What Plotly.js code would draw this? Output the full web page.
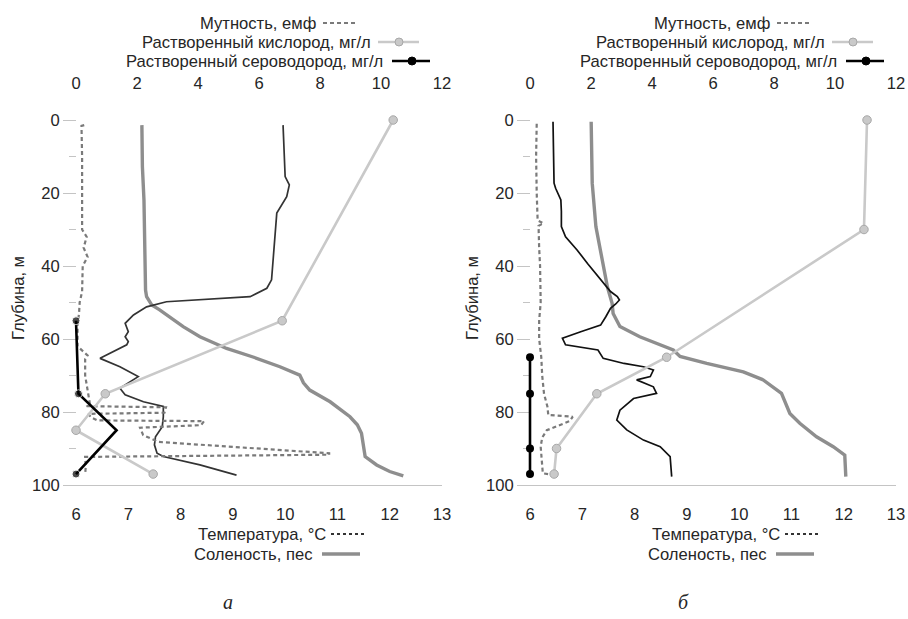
<!DOCTYPE html>
<html>
<head>
<meta charset="utf-8">
<script src="https://cdn.plot.ly/plotly-3.0.1.min.js"></script>
<style>html,body{margin:0;padding:0;background:#fff;}#chart{width:908px;height:619px;}</style>
</head>
<body>
<div id="chart"></div>
<script>
// ---------- Panel а ----------
const tempDepthA = [1.4, 8, 15.5, 17.8, 21, 25.5, 33, 40.2, 43.8, 46.1, 48.4, 49.8, 51.2, 53.4, 55.7, 58, 59.4, 60.7, 61.6, 65.3, 67.6, 70.3, 73.5, 75.3, 77.2, 78.5, 81.3, 84, 86.8, 89, 91.3, 92.2, 94.5, 97.3];
const tempA = [9.96, 9.98, 10.0, 10.08, 10.03, 9.84, 9.8, 9.77, 9.74, 9.65, 9.33, 7.73, 7.35, 7.1, 6.94, 7.0, 6.94, 7.0, 6.97, 6.46, 6.84, 7.19, 6.84, 6.94, 7.29, 7.67, 7.67, 7.65, 7.52, 7.5, 7.55, 7.67, 8.37, 9.07];
const salDepthA = [1.4, 12.8, 21.9, 40.2, 46.6, 48.4, 50.7, 52, 56.6, 59.4, 62.6, 65, 67.6, 69.9, 72, 74, 77.2, 81.3, 83.5, 85.8, 92.2, 94.5, 96.3, 97.5];
const salA = [7.26, 7.27, 7.3, 7.32, 7.33, 7.35, 7.45, 7.6, 8.05, 8.37, 8.88, 9.4, 9.9, 10.28, 10.35, 10.47, 10.86, 11.24, 11.38, 11.46, 11.53, 11.75, 12.0, 12.26];
const turbDepthA = [1.4, 1.6, 10, 20, 30, 32, 35, 37.5, 40, 47, 50, 53, 56, 62, 64.5, 65.5, 70, 75, 77.5, 78.4, 78.7, 80.2, 80.5, 81.5, 82.3, 82.5, 83.6, 84.3, 86.3, 88.2, 91.3, 91.7, 92.3, 95, 97];
const turbA = [0.27, 0.18, 0.2, 0.2, 0.2, 0.35, 0.25, 0.38, 0.22, 0.2, 0.12, 0.1, 0.05, 0.05, 0.38, 0.3, 0.3, 0.4, 0.45, 0.35, 2.95, 2.9, 0.4, 0.5, 0.7, 4.2, 4.1, 2.1, 2.2, 2.7, 8.3, 8.3, 0.3, 0.32, 0.3];
const oxyDepthA = [0, 55, 75, 85, 97];
const oxyA = [10.4, 6.76, 0.96, 0, 2.53];
const h2sDepthA = [55, 75, 85, 97];
const h2sA = [0, 0.08, 1.33, 0];

// ---------- Panel б ----------
const tempDepthB = [0.5, 10, 17.3, 18.7, 21.9, 25, 29.2, 32, 35.6, 39.3, 43.8, 47, 48.4, 49.3, 50.4, 51.6, 53.9, 56.2, 58, 59.8, 61.6, 63, 65.3, 66.7, 67.6, 68.5, 70.3, 71.2, 73.1, 74.9, 76.3, 79.5, 82.2, 84.9, 87.7, 89.5, 92.2, 97.7];
const tempB = [6.44, 6.45, 6.46, 6.49, 6.59, 6.6, 6.6, 6.68, 6.9, 7.1, 7.35, 7.54, 7.67, 7.71, 7.64, 7.54, 7.45, 7.35, 6.97, 6.62, 6.68, 7.3, 7.4, 7.8, 8.17, 8.36, 8.3, 8.04, 8.36, 8.42, 7.98, 7.72, 7.66, 7.85, 8.17, 8.49, 8.68, 8.71];
const salDepthB = [0.5, 17.3, 29.2, 36.5, 45.7, 50.2, 53, 56.6, 59.4, 63, 64.8, 66.7, 69, 71.2, 74.9, 80.4, 83.1, 86.8, 89.5, 91.8, 94, 97.7];
const salB = [7.17, 7.19, 7.26, 7.35, 7.48, 7.57, 7.59, 7.72, 8.1, 8.74, 8.87, 9.38, 10.08, 10.46, 10.81, 10.97, 11.16, 11.48, 11.8, 12.02, 12.03, 12.04];
const turbDepthB = [1, 10, 20, 27.5, 28.3, 29, 35, 40, 50, 55, 60, 65, 70, 75, 78.5, 80.8, 81.3, 82.5, 85, 87, 89.5, 94.5, 96.8, 97.2];
const turbB = [0.22, 0.2, 0.22, 0.25, 0.44, 0.28, 0.3, 0.33, 0.35, 0.3, 0.3, 0.37, 0.4, 0.46, 0.57, 0.6, 1.4, 1.3, 0.55, 0.4, 0.35, 0.4, 0.42, 0.75];
const oxyDepthB = [0, 30, 65, 75, 90, 97];
const oxyB = [11.05, 10.95, 4.48, 2.19, 0.87, 0.79];
const h2sDepthB = [65, 75, 90, 97];
const h2sB = [0, 0, 0, 0];

// ---------- Labels ----------
const topTicks = [0, 2, 4, 6, 8, 10, 12];
const bottomTicks = [6, 7, 8, 9, 10, 11, 12, 13];
const depthTicks = [0, 20, 40, 60, 80, 100];
const depthMinor = [10, 30, 50, 70, 90];
const topMajorMarks = [0, 4, 8, 10];
const topMinorMarks = [3, 5, 9, 11];
const botMajorMarks = [6, 7, 8, 10, 12];
const botMinorMarks = [6.5, 8.5, 10.5];
const nameTurb = 'Мутность, емф';
const nameOxy = 'Растворенный кислород, мг/л';
const nameH2S = 'Растворенный сероводород, мг/л';
const nameTemp = 'Температура, °C';
const nameSal = 'Соленость, пес';
const yTitle = 'Глубина, м';
const captions = ['а', 'б'];

const W = 908, H = 619;
const FONT = '"Liberation Sans", Arial, sans-serif';
const TXT = '#262626';
const px = x => x / W;
const py = y => 1 - y / H;

const C = {
  turb: '#7a7a7a', oxy: '#c9c9c9', oxyEdge: '#a8a8a8', h2s: '#000000',
  sal: '#8e8e8e', tempA: '#333333', tempB: '#111111'
};

function panelTraces(xb, xt, yax, d) {
  return [
    {x: d.sal, y: d.salD, xaxis: xb, yaxis: yax, mode: 'lines', name: nameSal,
     line: {color: C.sal, width: 3.4}},
    {x: d.temp, y: d.tempD, xaxis: xb, yaxis: yax, mode: 'lines', name: nameTemp,
     line: {color: d.tcol, width: 1.7}},
    {x: d.turb, y: d.turbD, xaxis: xt, yaxis: yax, mode: 'lines', name: nameTurb,
     line: {color: C.turb, width: 2.2, dash: '4px,3px'}},
    {x: d.oxy, y: d.oxyD, xaxis: xt, yaxis: yax, mode: 'lines+markers', name: nameOxy,
     line: {color: C.oxy, width: 2.6}, cliponaxis: false,
     marker: {size: 8.5, color: C.oxy, line: {color: C.oxyEdge, width: 1}}},
    {x: d.h2s, y: d.h2sD, xaxis: xt, yaxis: yax, mode: 'lines+markers', name: nameH2S,
     line: {color: C.h2s, width: 2.6}, cliponaxis: false,
     marker: {size: d.h2sSize, color: C.h2s}}
  ];
}

const data = [].concat(
  panelTraces('x', 'x2', 'y', {
    sal: salA, salD: salDepthA, temp: tempA, tempD: tempDepthA, tcol: C.tempA,
    turb: turbA, turbD: turbDepthA, oxy: oxyA, oxyD: oxyDepthA,
    h2s: h2sA, h2sD: h2sDepthA, h2sSize: [8, 8, 0, 8]
  }),
  panelTraces('x5', 'x6', 'y2', {
    sal: salB, salD: salDepthB, temp: tempB, tempD: tempDepthB, tcol: C.tempB,
    turb: turbB, turbD: turbDepthB, oxy: oxyB, oxyD: oxyDepthB,
    h2s: h2sB, h2sD: h2sDepthB, h2sSize: 8
  })
);

// geometry: axis origin at 76 px (panel a) / 530 px (panel б), right end +366 px;
// plot area extended 10 px to the left so that marks at the origin are not clipped
const PAD = 10;
const SPAN = 366;
const botPerPx = 7 / SPAN, topPerPx = 12 / SPAN;
const botRange = [6 - PAD * botPerPx, 13];
const topRange = [0 - PAD * topPerPx, 12];
const tickFont = {family: FONT, size: 16.6, color: TXT};
const yRange = [100, -2.466];
const originA = 76, originB = 530;
const domA = [(originA - PAD) / W, (originA + SPAN) / W];
const domB = [(originB - PAD) / W, (originB + SPAN) / W];
const yDom = [1 - 485 / H, 1 - 111 / H];

function bottomLabelAxis(dom, yanchor) {
  return {domain: dom, anchor: yanchor, side: 'bottom', range: botRange, tickmode: 'array',
    tickvals: bottomTicks, ticks: 'outside', ticklen: 14, tickcolor: 'rgba(0,0,0,0)',
    showline: true, linecolor: '#c4c4c4', linewidth: 1, showgrid: false, zeroline: false,
    tickfont: tickFont, fixedrange: true, layer: 'below traces'};
}
function topLabelAxis(over, yanchor) {
  return {overlaying: over, anchor: yanchor, side: 'top', range: topRange, tickmode: 'array',
    tickvals: topTicks, ticks: 'outside', ticklen: 14, tickcolor: 'rgba(0,0,0,0)',
    showline: false, showgrid: false, zeroline: false, tickfont: tickFont, fixedrange: true};
}
function bottomMarkAxis(over, yanchor) {
  return {overlaying: over, anchor: yanchor, side: 'bottom', range: botRange, tickmode: 'array',
    tickvals: botMajorMarks, ticks: 'outside', ticklen: 8, tickcolor: '#b8b8b8', tickwidth: 1,
    minor: {tickmode: 'array', tickvals: botMinorMarks, ticks: 'outside', ticklen: 5, tickcolor: '#555', tickwidth: 1},
    showticklabels: false, showline: false, showgrid: false, zeroline: false, fixedrange: true};
}
function topMarkAxis(over, yanchor) {
  return {overlaying: over, anchor: yanchor, side: 'top', range: topRange, tickmode: 'array',
    tickvals: topMajorMarks, ticks: 'outside', ticklen: 11, tickcolor: '#b0b0b0', tickwidth: 1,
    minor: {tickmode: 'array', tickvals: topMinorMarks, ticks: 'outside', ticklen: 5, tickcolor: '#c4c4c4', tickwidth: 1},
    showticklabels: false, showline: false, showgrid: false, zeroline: false, fixedrange: true};
}
function depthAxis(origin) {
  return {domain: yDom, anchor: 'free', position: origin / W, range: yRange,
    tickmode: 'array', tickvals: depthTicks,
    ticks: 'outside', ticklen: 13, tickcolor: '#c4c4c4', tickwidth: 1,
    minor: {tickmode: 'array', tickvals: depthMinor, ticks: 'outside', ticklen: 7, tickcolor: '#c4c4c4'},
    showline: false, showgrid: false, zeroline: false, tickfont: tickFont, layer: 'below traces',
    title: {text: yTitle, font: {family: FONT, size: 16.6, color: TXT}, standoff: 2},
    automargin: false, fixedrange: true};
}

// legend-like key rows (text + sample), positioned per panel
const annotations = [];
const shapes = [];
function keyRow(dx, textEnd, y, label, x0, x1, style, markerX) {
  annotations.push({xref: 'paper', yref: 'paper', x: px(dx + textEnd), y: py(y), xanchor: 'right',
    yanchor: 'middle', text: label, showarrow: false, font: {family: FONT, size: 16.6, color: TXT}});
  shapes.push({type: 'line', xref: 'paper', yref: 'paper', x0: px(dx + x0), x1: px(dx + x1),
    y0: py(y), y1: py(y), line: style.line});
  if (markerX !== undefined) {
    const r = 4;
    shapes.push({type: 'circle', xref: 'paper', yref: 'paper', x0: px(dx + markerX - r), x1: px(dx + markerX + r),
      y0: py(y + r), y1: py(y - r), fillcolor: style.fill, line: {color: style.edge, width: 1}});
  }
}
[0, 454].forEach(dx => {
  keyRow(dx, 318, 23, nameTurb, 323, 358, {line: {color: C.turb, width: 2, dash: '4px,3px'}});
  keyRow(dx, 373, 42, nameOxy, 378, 419, {line: {color: C.oxy, width: 2.6}, fill: C.oxy, edge: C.oxyEdge}, 399);
  keyRow(dx, 385, 61, nameH2S, 392, 430, {line: {color: C.h2s, width: 2.6}, fill: C.h2s, edge: C.h2s}, 412);
  keyRow(dx, 328, 534, nameTemp, 331, 367, {line: {color: '#333', width: 2.2, dash: 'dot'}});
  keyRow(dx, 314, 554, nameSal, 322, 360, {line: {color: C.sal, width: 3.4}});
});
[[228, captions[0]], [683, captions[1]]].forEach(([cx, t]) => {
  annotations.push({xref: 'paper', yref: 'paper', x: px(cx), y: py(602), xanchor: 'center', yanchor: 'middle',
    text: t, showarrow: false,
    font: {family: '"Liberation Serif", "DejaVu Serif", serif', size: 20, color: TXT, style: 'italic'}});
});

const layout = {
  width: W, height: H, autosize: false,
  margin: {l: 0, r: 0, t: 0, b: 0, pad: 0},
  paper_bgcolor: '#ffffff', plot_bgcolor: 'rgba(0,0,0,0)',
  showlegend: false,
  font: {family: FONT, color: TXT},
  xaxis: bottomLabelAxis(domA, 'y'),
  xaxis2: topLabelAxis('x', 'y'),
  xaxis3: bottomMarkAxis('x', 'y'),
  xaxis4: topMarkAxis('x', 'y'),
  xaxis5: bottomLabelAxis(domB, 'y2'),
  xaxis6: topLabelAxis('x5', 'y2'),
  xaxis7: bottomMarkAxis('x5', 'y2'),
  xaxis8: topMarkAxis('x5', 'y2'),
  yaxis: depthAxis(originA),
  yaxis2: depthAxis(originB),
  annotations: annotations,
  shapes: shapes
};

Plotly.newPlot('chart', data, layout, {displayModeBar: false, staticPlot: true});
</script>
</body>
</html>
